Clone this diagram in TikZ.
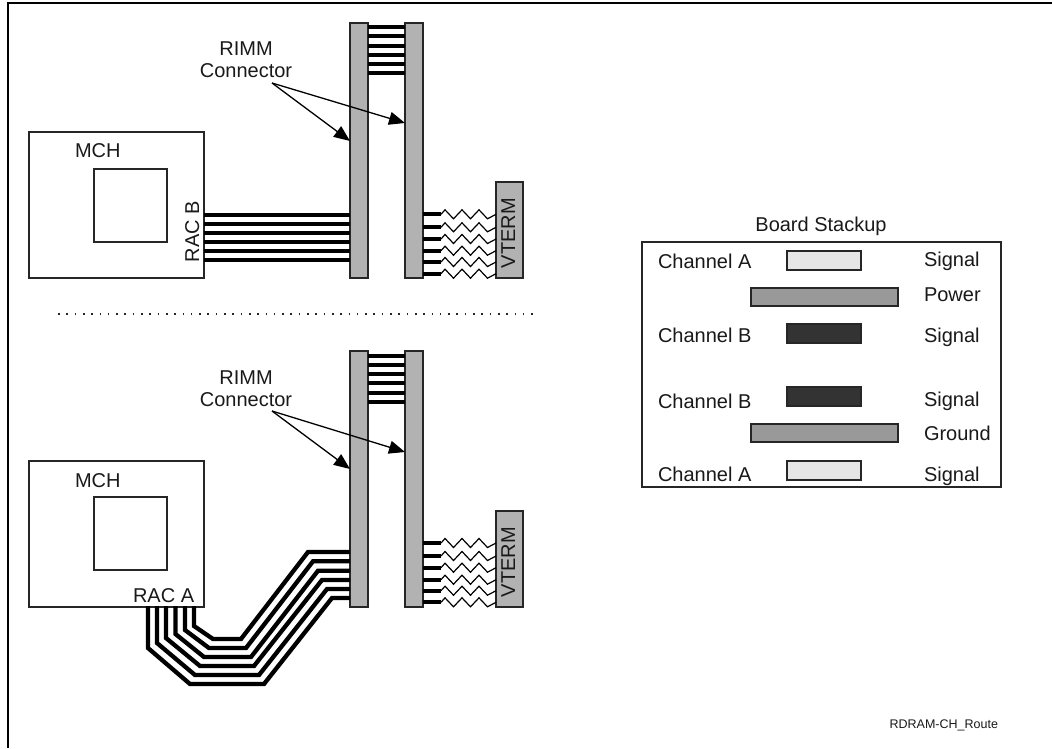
\documentclass[tikz,border=0pt]{standalone}
\usepackage{fontspec}
\setmainfont{Liberation Sans}
\usetikzlibrary{arrows.meta,calc}
\tikzset{
  x=1pt,y=-1pt,
  every node/.style={inner sep=0pt,outer sep=0pt},
  txt/.style={anchor=base west,font=\fontsize{20}{22}\selectfont,text=black!90},
  ctxt/.style={anchor=base,font=\fontsize{20}{22}\selectfont,text=black!90,align=center},
  vtxt/.style={rotate=90,anchor=base west,font=\fontsize{20}{22}\selectfont,text=black!90},
  plainbox/.style={draw=black!85,line width=1.4pt,anchor=north west,fill=white},
  barbox/.style={plainbox,fill=barGrey,minimum width=18pt,minimum height=#1},
  vtermbox/.style={plainbox,fill=barGrey,minimum width=27pt,minimum height=96pt},
  chipbox/.style={plainbox,minimum width=175pt,minimum height=146pt},
  diebox/.style={plainbox,minimum width=73pt,minimum height=73pt},
  sigbox/.style={plainbox,minimum width=74pt,minimum height=19pt,fill=#1},
  planebox/.style={plainbox,minimum width=147pt,minimum height=18pt,fill=midGrey},
  panelbox/.style={plainbox,minimum width=359pt,minimum height=245pt},
  wire/.style={line width=4.3pt,black,miter limit=10},
  res/.style={line width=1.2pt,black,line join=miter},
  pointer/.style={line width=1.3pt,black,-{Triangle[length=16pt,width=13pt]}},
}
\definecolor{barGrey}{HTML}{B2B2B2}
\definecolor{midGrey}{HTML}{999999}
\definecolor{lightGrey}{HTML}{E6E6E6}
\definecolor{darkGrey}{HTML}{333333}
\begin{document}
\begin{tikzpicture}
\useasboundingbox (0,0) rectangle (1052,748);
% page frame
\coordinate (fTL) at (8,3);
\coordinate (fTR) at (1052,3);
\coordinate (fBL) at (8,748);
\draw[line width=2.4pt,black] (fBL) -- (fTL) -- (fTR);

% ---------- upper drawing ----------
\node[barbox=255pt] (ubl) at (350,23) {};
\node[barbox=255pt] (ubr) at (405,23) {};
\node[vtermbox] (uvt) at (496,182) {};
\node[chipbox] (umch) at (29,132) {};
\node[diebox] (udie) at (94,169) {};

\foreach \y in {27.3,36.3,45.7,54.7,63.7,72.7}
  \draw[wire] (ubl.east |- 0,\y) -- (ubr.west |- 0,\y);
\foreach \y in {214.7,223.7,233,242,251,260}
  \draw[wire] (umch.east |- 0,\y) -- (ubl.west |- 0,\y);
\foreach \y in {214.3,227.3,239,250.7,262,273.7}{
  \draw[wire] (ubr.east |- 0,\y) -- ($(ubr.east |- 0,\y)+(18,0)$);
  \draw[res] ($(ubr.east |- 0,\y)+(18,0)$) -- ++(4,-4.5) -- ++(8.5,9) -- ++(8.5,-9) -- ++(8.5,9) -- ++(8.5,-9) -- ++(8.5,9) -- (uvt.west |- 0,\y);
}
\node[ctxt] (urimm) at (246,55) {RIMM};
\node[ctxt] (ucon) at (246,77) {Connector};
\coordinate (ustart) at (272,83);
\coordinate (utipl) at (ubl.west |- 0,141);
\coordinate (utipr) at (ubr.west |- 0,123);
\draw[pointer] (ustart) -- (utipl);
\draw[pointer] (ustart) -- (utipr);
\node[txt] (umchl) at (75,157) {MCH};
\node[vtxt] (urac) at (199,262) {RAC B};
\node[vtxt] (uvtl) at (515,268) {VTERM};

% divider
\coordinate (d1) at (58,314);
\coordinate (d2) at (535,314);
\draw[line width=1.4pt,black!85,dash pattern=on 1.6pt off 6.7pt] (d1) -- (d2);

% ---------- lower drawing ----------
\node[barbox=256pt] (lbl) at (350,351) {};
\node[barbox=256pt] (lbr) at (405,351) {};
\node[vtermbox] (lvt) at (496,511) {};
\node[chipbox] (lmch) at (29,461) {};
\node[diebox] (ldie) at (94,497) {};

\foreach \y in {355.7,365.3,374,383.3,392.7,401.7}
  \draw[wire] (lbl.east |- 0,\y) -- (lbr.west |- 0,\y);
\foreach \y in {543,556,567.7,579.7,590.7,602.3}{
  \draw[wire] (lbr.east |- 0,\y) -- ($(lbr.east |- 0,\y)+(18,0)$);
  \draw[res] ($(lbr.east |- 0,\y)+(18,0)$) -- ++(4,-4.5) -- ++(8.5,9) -- ++(8.5,-9) -- ++(8.5,9) -- ++(8.5,-9) -- ++(8.5,9) -- (lvt.west |- 0,\y);
}
% routed channel: x at the chip, y of the drop, corner and floor, floor end, rise end, y at the connector
\foreach \xa/\ya/\xb/\yb/\xc/\xd/\ye in {
  148/648/190/684/264/332/598,
  157/643/195/675/259/327/589,
  166/638/200/666/254/322/580,
  175.5/634/204/657/251/318/570.7,
  185/630/209/648/246/313/561.3,
  194/626/213/639/241/308/552}
  \draw[wire] (\xa,606) -- (\xa,\ya) -- (\xb,\yb) -- (\xc,\yb) -- (\xd,\ye) -- (lbl.west |- 0,\ye);

\node[ctxt] (lrimm) at (246,384) {RIMM};
\node[ctxt] (lcon) at (246,406) {Connector};
\coordinate (lstart) at (272,411);
\coordinate (ltipl) at (lbl.west |- 0,469);
\coordinate (ltipr) at (lbr.west |- 0,452);
\draw[pointer] (lstart) -- (ltipl);
\draw[pointer] (lstart) -- (ltipr);
\node[txt] (lmchl) at (75,487) {MCH};
\node[txt] (lrac) at (133,602) {RAC A};
\node[vtxt] (lvtl) at (515,597) {VTERM};

% ---------- board stackup ----------
\node[ctxt] (title) at (821,231) {Board Stackup};
\node[panelbox] (panel) at (642,242) {};
\node[sigbox=lightGrey] (s1) at (787,251) {};
\node[planebox] (p1) at (751,288) {};
\node[sigbox=darkGrey] (s2) at (787,324) {};
\node[sigbox=darkGrey] (s3) at (787,387) {};
\node[planebox] (p2) at (751,424) {};
\node[sigbox=lightGrey] (s4) at (787,461) {};
\node[txt] (c1) at (658,268) {Channel A};
\node[txt] (c2) at (658,342) {Channel B};
\node[txt] (c3) at (658,408) {Channel B};
\node[txt] (c4) at (658,481) {Channel A};
\node[txt] (t1) at (924,266) {Signal};
\node[txt] (t2) at (924,301) {Power};
\node[txt] (t3) at (924,342) {Signal};
\node[txt] (t4) at (924,406) {Signal};
\node[txt] (t5) at (924,440) {Ground};
\node[txt] (t6) at (924,481) {Signal};
\node[anchor=base east,font=\fontsize{12.5}{14}\selectfont,text=black!90] (tag) at (998,728) {RDRAM-CH\_Route};
\end{tikzpicture}
\end{document}
